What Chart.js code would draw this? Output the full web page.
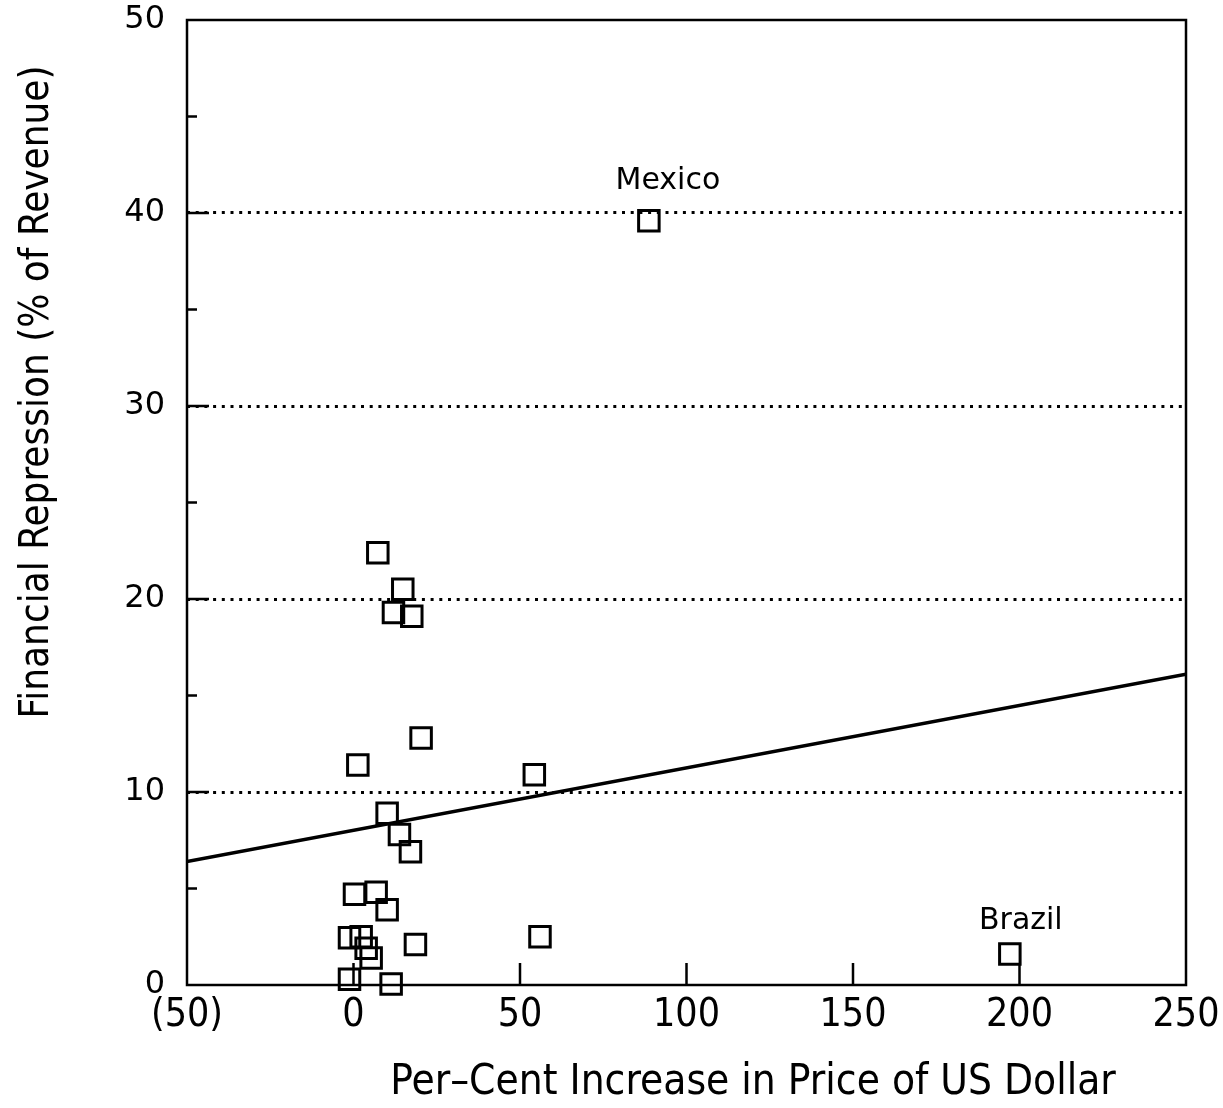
<!DOCTYPE html>
<html>
<head>
<meta charset="utf-8">
<title>Financial Repression vs. Increase in Price of US Dollar</title>
<script src="https://cdn.jsdelivr.net/npm/chart.js@4.4.1/dist/chart.umd.min.js"></script>
<style>
  html, body { margin: 0; padding: 0; background: #fff; }
  #wrap { position: relative; width: 1223px; height: 1108px; }
</style>
</head>
<body>
<div id="wrap"><canvas id="chart"></canvas></div>
<script>
// Per-cent increase in the price of the US dollar (x) and financial repression, % of revenue (y)
const dollarIncrease = [7.3, 14.8, 12.0, 17.5, 20.3, 1.3, 54.3, 10.1, 13.8, 17.1,
                        0.3, 6.8, 10.1, -1.2, 2.3, 3.8, 5.3, 18.6, 56.0, -1.2, 11.3,
                        88.7, 197.1];
const repression     = [22.4, 20.5, 19.3, 19.1, 12.8, 11.4, 10.9, 8.9, 7.8, 6.9,
                        4.7, 4.8, 3.9, 2.45, 2.5, 1.9, 1.4, 2.1, 2.5, 0.3, 0.05,
                        39.6, 1.6];
const countryNames   = ['', '', '', '', '', '', '', '', '', '',
                        '', '', '', '', '', '', '', '', '', '', '',
                        'Mexico', 'Brazil'];

// Fitted regression line, evaluated at the ends of the x axis
const fitX = [-50, 250];
const fitY = [6.4, 16.1];

// Axis ticks
const xTicks = [-50, 0, 50, 100, 150, 200, 250];
const yTicks = [0, 5, 10, 15, 20, 25, 30, 35, 40, 45, 50];

const xTitle = 'Per\u2013Cent Increase in Price of US Dollar';
const yTitle = 'Financial Repression (% of Revenue)';

const pointData = dollarIncrease.map((v, i) => ({ x: v, y: repression[i] }));
const fitData = fitX.map((v, i) => ({ x: v, y: fitY[i] }));

const condensed = "'DejaVu Sans Condensed', 'DejaVu Sans', sans-serif";

// Frame, inward tick marks, country labels and axis titles
const decorations = {
  id: 'decorations',
  afterDraw(chart, args, opts) {
    const { ctx, chartArea: a, scales: { x, y } } = chart;
    ctx.save();
    ctx.strokeStyle = '#000';
    ctx.fillStyle = '#000';
    ctx.lineWidth = 2.5;
    ctx.lineCap = 'butt';
    ctx.strokeRect(a.left, a.top, a.right - a.left, a.bottom - a.top);

    ctx.beginPath();
    y.ticks.forEach(t => {
      if (t.value <= y.min || t.value >= y.max) return;
      const py = y.getPixelForValue(t.value);
      const len = t.value % 10 === 0 ? opts.majorTick : opts.minorTick;
      ctx.moveTo(a.left, py);
      ctx.lineTo(a.left + len, py);
    });
    x.ticks.forEach(t => {
      if (t.value <= x.min || t.value >= x.max) return;
      const px = x.getPixelForValue(t.value);
      ctx.moveTo(px, a.bottom);
      ctx.lineTo(px, a.bottom - opts.majorTick);
    });
    ctx.stroke();

    // country labels above their points
    const meta = chart.getDatasetMeta(0);
    ctx.font = "30px 'DejaVu Sans', sans-serif";
    ctx.textAlign = 'center';
    ctx.textBaseline = 'middle';
    countryNames.forEach((name, i) => {
      if (!name) return;
      const el = meta.data[i];
      const off = opts.labelOffsets[name] || [0, -36];
      ctx.fillText(name, el.x + off[0], el.y + off[1]);
    });

    // axis titles
    ctx.font = '42px ' + condensed;
    ctx.fillText(xTitle, opts.xTitlePos[0], opts.xTitlePos[1]);
    ctx.font = '40px ' + condensed;
    ctx.translate(opts.yTitlePos[0], opts.yTitlePos[1]);
    ctx.rotate(-Math.PI / 2);
    ctx.fillText(yTitle, 0, 0);
    ctx.restore();
  }
};

// Keep the plot frame fixed: no extra room for overhanging tick labels
function noOverhang(s) {
  s.paddingTop = 0;
  s.paddingBottom = 0;
  s.paddingLeft = 0;
  s.paddingRight = 0;
}

new Chart(document.getElementById('chart'), {
  type: 'scatter',
  data: {
    datasets: [
      {
        label: 'Countries',
        data: pointData,
        pointStyle: 'rect',
        pointRadius: 14.5,
        pointHoverRadius: 14.5,
        pointBorderWidth: 3,
        borderColor: '#000',
        backgroundColor: 'rgba(0,0,0,0)',
        clip: false
      },
      {
        label: 'Fitted line',
        data: fitData,
        showLine: true,
        pointRadius: 0,
        borderColor: '#000',
        borderWidth: 3.5,
        fill: false
      }
    ]
  },
  options: {
    responsive: true,
    maintainAspectRatio: false,
    animation: false,
    events: [],
    layout: { padding: { top: 20, right: 37, left: 0, bottom: 0 } },
    plugins: {
      legend: { display: false },
      tooltip: { enabled: false },
      decorations: {
        majorTick: 22,
        minorTick: 10,
        labelOffsets: { Mexico: [19, -40], Brazil: [11, -33] },
        xTitlePos: [753, 1083],
        yTitlePos: [38, 392]
      }
    },
    scales: {
      x: {
        type: 'linear',
        min: xTicks[0],
        max: xTicks[xTicks.length - 1],
        afterBuildTicks: s => { s.ticks = xTicks.map(v => ({ value: v })); },
        afterFit: s => { s.height = 123; noOverhang(s); },
        border: { display: false },
        grid: { display: false, drawTicks: false },
        ticks: {
          padding: 11,
          color: '#000',
          font: { family: condensed, size: 39, lineHeight: 1 },
          maxRotation: 0,
          autoSkip: false,
          callback: v => v < 0 ? '(' + Math.abs(v) + ')' : String(v)
        }
      },
      y: {
        type: 'linear',
        min: yTicks[0],
        max: yTicks[yTicks.length - 1],
        afterBuildTicks: s => { s.ticks = yTicks.map(v => ({ value: v })); },
        afterFit: s => { s.width = 187; noOverhang(s); },
        border: { display: false, dash: [3, 5.7] },
        grid: {
          drawTicks: false,
          lineWidth: 3,
          color: c => (c.tick && c.tick.value % 10 === 0 && c.tick.value > 0 && c.tick.value < 50) ? '#000' : 'rgba(0,0,0,0)'
        },
        ticks: {
          padding: 22,
          color: '#000',
          font: { family: "'DejaVu Sans', sans-serif", size: 32, lineHeight: 1 },
          autoSkip: false,
          callback: v => v % 10 === 0 ? String(v) : ''
        }
      }
    }
  },
  plugins: [decorations]
});
</script>
</body>
</html>
